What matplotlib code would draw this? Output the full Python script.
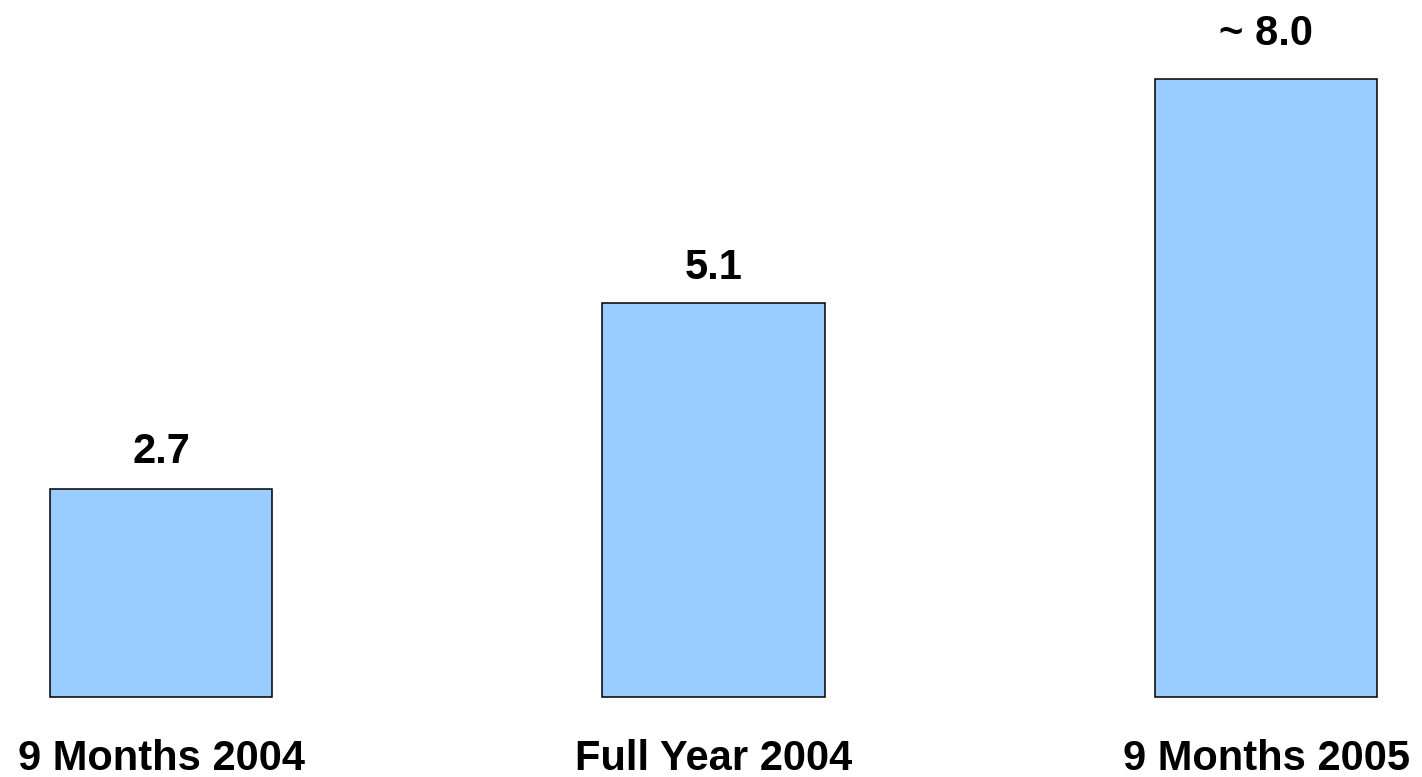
import matplotlib.pyplot as plt
import numpy as np

plt.rcParams['font.family'] = ['Liberation Sans', 'DejaVu Sans']

# 数据
categories = ['9 Months 2004', 'Full Year 2004', '9 Months 2005']
values = [2.7, 5.1, 8.0]
value_labels = ['2.7', '5.1', '~ 8.0']

fig = plt.figure(figsize=(14.22, 7.77), dpi=100)
ax = fig.add_axes([0, 0, 1, 1])

x = np.arange(len(categories))
bars = ax.bar(x, values, width=0.402, color='#99CCFF', edgecolor='black', linewidth=1.1)

# 数值标签（标签与柱顶的间距，单位：点）
label_gap = [18.5, 17.5, 25]
for b, lab, gap in zip(bars, value_labels, label_gap):
    ax.annotate(lab, (b.get_x() + b.get_width() / 2, b.get_height()),
                xytext=(0, gap), textcoords='offset points',
                ha='center', va='baseline', fontsize=30, fontweight='bold')

# 类别标签
for xi, cat in zip(x, categories):
    ax.text(xi, -0.945, cat, ha='center', va='baseline', fontsize=30, fontweight='bold')

ax.set_xlim(-161 / 552.5, (1422 - 161) / 552.5)
ax.set_ylim(-80 / 77.2, 697 / 77.2)
ax.axis('off')

fig.savefig('out.png', dpi=100)
